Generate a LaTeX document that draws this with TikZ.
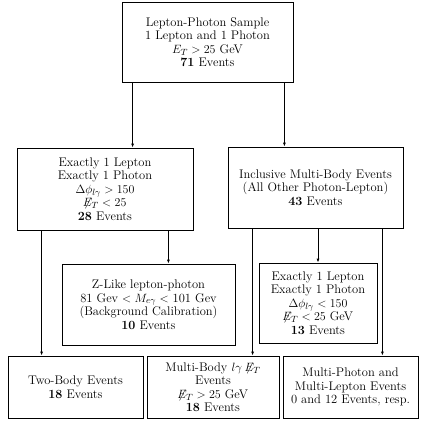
\documentclass[tikz,border=0pt]{standalone}
\usetikzlibrary{arrows.meta}

\begin{document}
\begin{tikzpicture}[x=1pt,y=-1pt,
   every node/.style={draw,align=center,inner sep=0pt,line width=0.8pt,
                      font=\fontsize{12.5}{13.5}\selectfont},
   >={Latex[length=4pt,width=3pt]},
   line width=0.8pt]

\useasboundingbox (0,0) rectangle (423,433);

\node[minimum width=171pt,minimum height=80pt] (sample) at (207.5,42)
   {Lepton-Photon Sample\\1 Lepton and 1 Photon\\$E_T > 25$ GeV\\\textbf{71} Events};
\node[minimum width=176pt,minimum height=82pt] (twobodycut) at (105,189)
   {Exactly 1 Lepton\\Exactly 1 Photon\\$\Delta\phi_{l\gamma} > 150$\\$\not\!\!E_T < 25$\\\textbf{28} Events};
\node[minimum width=175pt,minimum height=81pt] (inclusive) at (315.5,187.5)
   {Inclusive Multi-Body Events\\(All Other Photon-Lepton)\\\textbf{43} Events};
\node[minimum width=173pt,minimum height=81pt] (zlike) at (148.5,304.5)
   {Z-Like lepton-photon\\81 Gev $< M_{e\gamma} <$ 101 Gev\\(Background Calibration)\\\textbf{10} Events};
\node[minimum width=118pt,minimum height=80pt] (lowmet) at (318,303)
   {Exactly 1 Lepton\\Exactly 1 Photon\\$\Delta\phi_{l\gamma} < 150$\\$\not\!\!E_T < 25$ GeV\\\textbf{13} Events};
\node[minimum width=135pt,minimum height=62pt] (twobody) at (75.5,387)
   {Two-Body Events\\\textbf{18} Events};
\node[minimum width=132pt,minimum height=62pt] (multibody) at (213,387)
   {Multi-Body $l\gamma\not\!\!E_T$\\Events\\$\not\!\!E_T > 25$ GeV\\\textbf{18} Events};
\node[minimum width=135pt,minimum height=62pt] (multiphoton) at (350.5,387)
   {Multi-Photon and\\Multi-Lepton Events\\0 and 12 Events, resp.};

% connectors
\draw[->] ([xshift=11pt]sample.south west) coordinate (s1) -- (s1 |- twobodycut.north);
\draw[->] ([xshift=-9pt]sample.south east) coordinate (s2) -- (s2 |- inclusive.north);
\draw[->] ([xshift=25pt]twobodycut.south west) coordinate (t1) -- (t1 |- twobody.north);
\draw[->] ([xshift=-25pt]twobodycut.south east) coordinate (t2) -- (t2 |- zlike.north);
\draw[->] ([xshift=25pt]inclusive.south west) coordinate (i1) -- (i1 |- multibody.north);
\draw[->] (inclusive.south -| lowmet.north) -- (lowmet.north);
\draw[->] ([xshift=-21pt]inclusive.south east) coordinate (i3) -- (i3 |- multiphoton.north);

\end{tikzpicture}
\end{document}
